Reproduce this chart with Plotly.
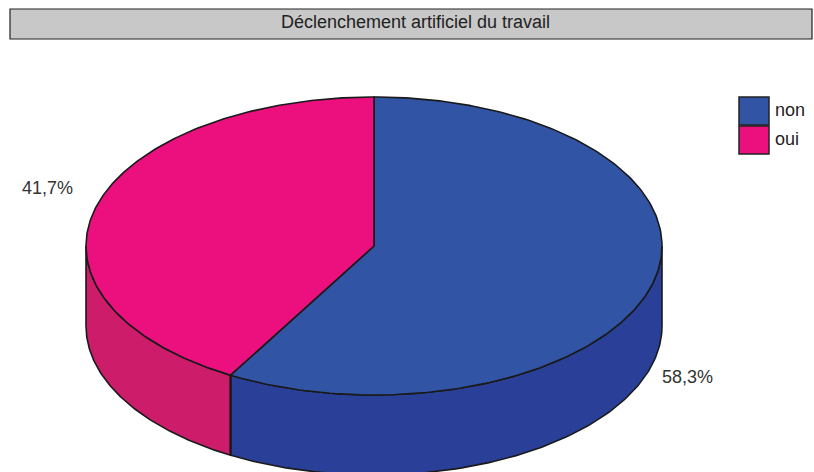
import numpy as np
import plotly.graph_objects as go

title = "Déclenchement artificiel du travail"
categories = ["non", "oui"]
values = [58.3, 41.7]
labels = ["58,3%", "41,7%"]
top_colors = ["#3154a4", "#ec107f"]
side_colors = ["#2a4098", "#cc1c6a"]

W, H = 814, 472
cx, cy, rx, ry, depth = 374, 246, 288, 149, 80

def pt(theta_deg, dy=0.0):
    t = np.radians(theta_deg)
    return cx + rx * np.sin(t), cy - ry * np.cos(t) + dy

fig = go.Figure()
total = sum(values)
starts, ends = [], []
a = 0.0
for v in values:
    starts.append(a)
    a += v / total * 360
    ends.append(a)

line_col = "#1a1a1a"
# side walls (visible front half: 90..270 deg)
for i, cat in enumerate(categories):
    s, e = max(starts[i], 90), min(ends[i], 270)
    if e <= s:
        continue
    th = np.linspace(s, e, 120)
    xt, yt = pt(th)
    xb, yb = pt(th[::-1], depth)
    xs = np.concatenate([xt, xb, xt[:1]])
    ys = np.concatenate([yt, yb, yt[:1]])
    fig.add_trace(go.Scatter(x=xs, y=ys, mode="lines", fill="toself",
                             fillcolor=side_colors[i],
                             line=dict(color=line_col, width=1.6),
                             hoverinfo="skip", showlegend=False))
# boundary vertical edges on the side
for b in ends[:-1]:
    if 90 < b < 270:
        x0, y0 = pt(b)
        x1, y1 = pt(b, depth)
        fig.add_trace(go.Scatter(x=[x0, x1], y=[y0, y1], mode="lines",
                                 line=dict(color=line_col, width=2),
                                 hoverinfo="skip", showlegend=False))
# top slices
for i, cat in enumerate(categories):
    th = np.linspace(starts[i], ends[i], 240)
    xa, ya = pt(th)
    xs = np.concatenate([[cx], xa, [cx]])
    ys = np.concatenate([[cy], ya, [cy]])
    fig.add_trace(go.Scatter(x=xs, y=ys, mode="lines", fill="toself",
                             fillcolor=top_colors[i],
                             line=dict(color=line_col, width=1.6),
                             name=cat, hoverinfo="skip", showlegend=False))

font = "Liberation Sans, Arial, sans-serif"
shapes = [dict(type="rect", xref="x", yref="y", x0=10, x1=812, y0=9, y1=39,
               fillcolor="#c8c8c8", line=dict(color="#222222", width=1.2), layer="below")]
annotations = [dict(x=415, y=22, xref="x", yref="y", text=title, showarrow=False,
                    font=dict(family=font, size=18, color="#222222"))]
# legend
for i, cat in enumerate(categories):
    y0 = 97 + i * 29
    shapes.append(dict(type="rect", xref="x", yref="y", x0=739, x1=769, y0=y0, y1=y0 + 28,
                       fillcolor=top_colors[i], line=dict(color="#222222", width=1.5)))
    annotations.append(dict(x=773, y=y0 + 13, xref="x", yref="y", text=cat, showarrow=False,
                            xanchor="left", font=dict(family=font, size=18, color="#222222")))
# value labels
label_pos = [(687, 377), (47, 188)]
for i, lab in enumerate(labels):
    annotations.append(dict(x=label_pos[i][0], y=label_pos[i][1], xref="x", yref="y",
                            text=lab, showarrow=False,
                            font=dict(family=font, size=18, color="#333333")))

fig.update_layout(width=W, height=H, margin=dict(l=0, r=0, t=0, b=0),
                  paper_bgcolor="white", plot_bgcolor="white",
                  xaxis=dict(range=[0, W], visible=False, fixedrange=True),
                  yaxis=dict(range=[H, 0], visible=False, fixedrange=True),
                  shapes=shapes, annotations=annotations)
fig.write_html("out.html", config={"displayModeBar": False},
               post_script="document.body.style.margin='0';document.body.style.overflow='hidden';")
